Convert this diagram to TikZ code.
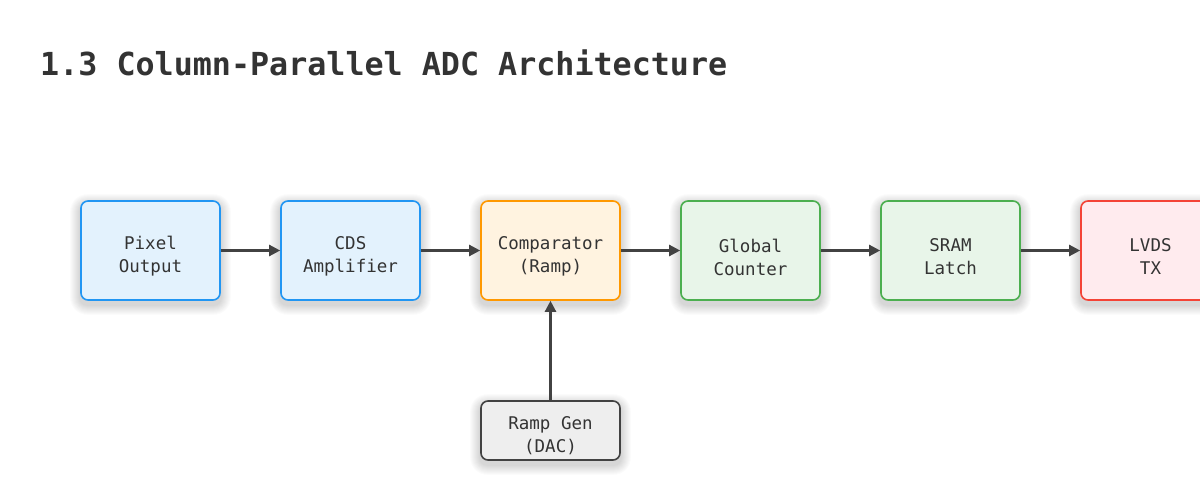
\documentclass[tikz,border=0pt]{standalone}
\usepackage{fontspec}
\setmonofont{DejaVu Sans Mono}
\usetikzlibrary{arrows.meta,backgrounds}
\pgfdeclarelayer{paper}
\pgfsetlayers{paper,background,main}
\definecolor{txt}{HTML}{333333}
\definecolor{arr}{HTML}{424242}
\definecolor{bluebd}{HTML}{2196F3}\definecolor{bluefl}{HTML}{E3F2FD}
\definecolor{orbd}{HTML}{FF9800}\definecolor{orfl}{HTML}{FFF3E0}
\definecolor{grbd}{HTML}{4CAF50}\definecolor{grfl}{HTML}{E8F5E9}
\definecolor{rdbd}{HTML}{F44336}\definecolor{rdfl}{HTML}{FFEBEE}
\definecolor{gybd}{HTML}{424242}\definecolor{gyfl}{HTML}{EEEEEE}
\tikzset{
  blockbox/.style={draw, line width=1.6pt, rounded corners=7pt, minimum width=139pt, minimum height=99pt, inner sep=0pt},
  bluebox/.style={blockbox, draw=bluebd, fill=bluefl},
  orbox/.style={blockbox, draw=orbd, fill=orfl},
  grbox/.style={blockbox, draw=grbd, fill=grfl},
  rdbox/.style={blockbox, draw=rdbd, fill=rdfl},
  gybox/.style={blockbox, draw=gybd, fill=gyfl, minimum height=59pt},
  boxtext/.style={align=center, text=txt, font=\ttfamily\fontsize{17.5}{23}\selectfont, inner sep=0pt},
  flow/.style={draw=arr, line width=2.3pt, -{Triangle[length=11pt,width=11pt]}},
}
\newcommand{\softshadow}[1]{%
  \foreach \r in {1,...,10}{
    \fill[black, opacity=0.014, rounded corners=7pt+\r pt]
      ([xshift=-\r pt, yshift=-\r pt-4pt]#1.south west) rectangle ([xshift=\r pt, yshift=\r pt-4pt]#1.north east);
  }}
\begin{document}
\begin{tikzpicture}[x=1pt,y=-1pt]
\begin{pgfonlayer}{paper}
\fill[white] (0,0) rectangle (1200,500);
\end{pgfonlayer}
\useasboundingbox (0,0) rectangle (1200,500);
\node[anchor=base west, text=txt, font=\ttfamily\bfseries\fontsize{31.7}{36}\selectfont, inner sep=0pt] (title) at (40,76) {1.3 Column-Parallel ADC Architecture};
\node[bluebox] (pix) at (150.5,250.5) {};
\node[bluebox] (cds) at (350.5,250.5) {};
\node[orbox] (cmp) at (550.5,250.5) {};
\node[grbox] (cnt) at (750.5,250.5) {};
\node[grbox] (sram) at (950.5,250.5) {};
\node[rdbox] (lvds) at (1150.5,250.5) {};
\node[gybox] (ramp) at (550.5,430.5) {};
\begin{scope}[on background layer]
  \softshadow{pix}\softshadow{cds}\softshadow{cmp}\softshadow{cnt}\softshadow{sram}\softshadow{lvds}\softshadow{ramp}
\end{scope}
\node[boxtext] (pixt) at (150.5,256) {Pixel\\Output};
\node[boxtext] (cdst) at (350.5,256) {CDS\\Amplifier};
\node[boxtext] (cmpt) at (550.5,256) {Comparator\\(Ramp)};
\node[boxtext] (cntt) at (750.5,257) {Global\\Counter};
\node[boxtext] (sramt) at (950.5,257) {SRAM\\Latch};
\node[boxtext] (lvdst) at (1150.5,257) {LVDS\\TX};
\node[boxtext] (rampt) at (550.5,436) {Ramp Gen\\(DAC)};
\draw[flow] (pix) -- (cds);
\draw[flow] (cds) -- (cmp);
\draw[flow] (cmp) -- (cnt);
\draw[flow] (cnt) -- (sram);
\draw[flow] (sram) -- (lvds);
\draw[flow] (ramp) -- (cmp);
\end{tikzpicture}
\end{document}
